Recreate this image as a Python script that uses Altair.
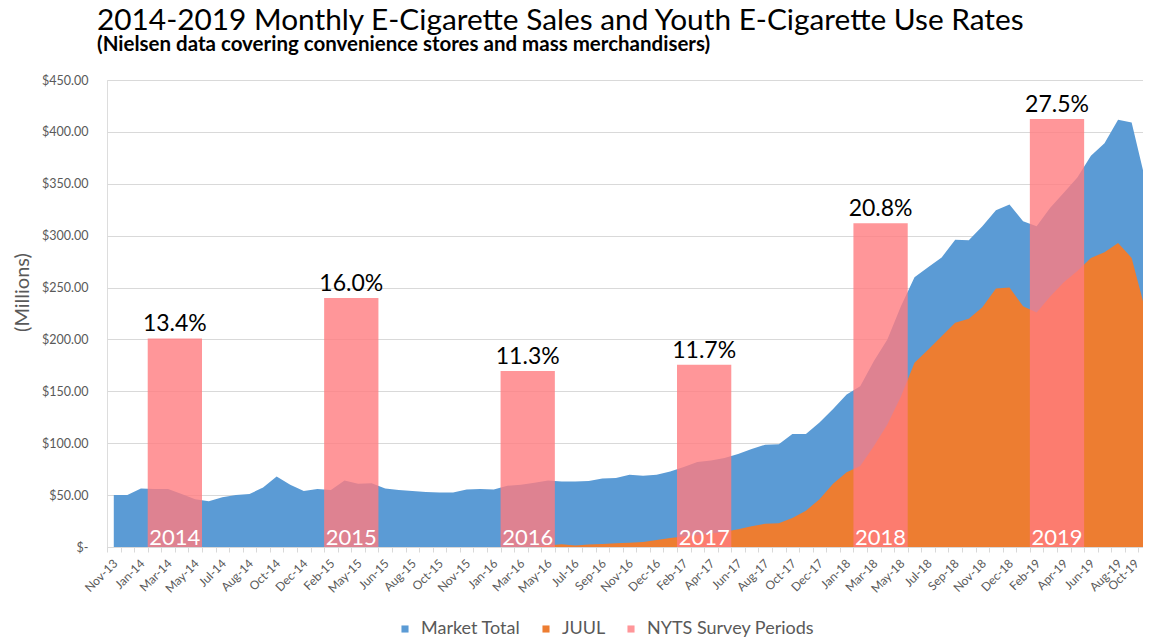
import altair as alt
import pandas as pd

# ---- data ----
tick_labels = ["Nov-13", "Jan-14", "Mar-14", "May-14", "Jul-14", "Aug-14", "Oct-14", "Dec-14",
               "Feb-15", "May-15", "Jun-15", "Aug-15", "Oct-15", "Nov-15", "Jan-16", "Mar-16",
               "May-16", "Jul-16", "Sep-16", "Nov-16", "Dec-16", "Feb-17", "Apr-17", "Jun-17",
               "Aug-17", "Oct-17", "Dec-17", "Jan-18", "Mar-18", "May-18", "Jul-18", "Sep-18",
               "Nov-18", "Dec-18", "Feb-19", "Apr-19", "Jun-19", "Aug-19", "Oct-19"]

# 4-week Nielsen periods, $ millions
market_total = [50, 50, 56.4, 56, 56, 51, 46, 44, 48, 50,
                51, 57.4, 68, 60, 54, 56, 55, 64, 61, 61.5,
                56.4, 55, 54, 53, 52.5, 52.5, 55.4, 56, 55.4, 59,
                60, 62, 64, 63, 63, 63.5, 66, 66.4, 69.6, 68.6,
                69.6, 72.8, 77, 82, 83.4, 85.7, 89.6, 94.4, 98.6, 99,
                109, 109, 120, 133, 147, 155, 179, 200, 232, 260,
                269.5, 279, 296, 295.5, 309, 324.6, 330, 314, 309, 327,
                341.4, 356, 377, 389, 411.6, 409, 354]

juul = [0, 0, 0, 0, 0, 0, 0, 0, 0, 0,
        0, 0, 0, 0, 0, 0, 0, 0, 0, 0,
        0, 0, 0, 0, 0, 0, 0, 0, 0, 0,
        0, 0, 1.5, 2.6, 1.5, 2.5, 3, 3.5, 4, 4.7,
        6.7, 8.7, 10, 11.6, 13, 14.8, 17, 20, 22.5, 23,
        28, 35, 46, 61, 72, 78, 97, 118, 145, 177.5,
        190, 203, 216, 220, 231, 249, 250, 232, 226, 241.5,
        255, 266, 278.6, 284, 293, 278.6, 228.7]

survey_years = ["2014", "2015", "2016", "2017", "2018", "2019"]
survey_rates = [13.4, 16.0, 11.3, 11.7, 20.8, 27.5]
survey_start = [3, 16, 29, 42, 55, 68]
survey_end = [7, 20, 33, 46, 59, 72]

n = len(market_total)
rows = []
for i, v in enumerate(market_total):
    rows.append({"period": i, "series": "Market Total", "value": v})
for i, v in enumerate(juul):
    rows.append({"period": i, "series": "JUUL", "value": v})
sales = pd.DataFrame(rows)
survey = pd.DataFrame({"year": survey_years, "rate": survey_rates,
                       "start": survey_start, "end": survey_end})

FONT = "Lato"
GREY = "#595959"
LIGHT = "#D9D9D9"

color_scale = alt.Scale(domain=["Market Total", "JUUL", "NYTS Survey Periods"],
                        range=["#5B9BD5", "#ED7D31", "rgba(255,124,128,0.8)"])

label_js = "[" + ",".join("'" + l + "'" for l in tick_labels) + "]"
x_scale = alt.Scale(domain=[0, n], nice=False, zero=False, padding=0)
x_axis = alt.Axis(values=list(range(n + 1)),
                  labelExpr=f"datum.value % 2 == 0 && datum.value < {n} ? {label_js}[datum.value / 2] : ''",
                  labelAngle=-45, labelAlign="right", labelBaseline="middle",
                  labelOffset={"condition": {"test": f"datum.value == {n - 1}", "value": -2}, "value": 8},
                  labelPadding=9, labelFont=FONT, labelFontSize=12,
                  labelColor=GREY, labelOverlap=False, labelFlush=False, labelBound=False,
                  tickColor=LIGHT, tickSize=5, domainColor=LIGHT, grid=False, title=None)

y_scale = alt.Scale(domain=[0, 450], nice=False, padding=0)
y_axis = alt.Axis(values=list(range(0, 451, 50)),
                  labelExpr="datum.value == 0 ? '$-' : '$' + format(datum.value, '.2f')",
                  grid=True, gridColor=LIGHT, ticks=False, domain=False,
                  labelPadding=19, labelFont=FONT, labelFontSize=12.5, labelColor=GREY,
                  title="(Millions)", titleFont=FONT, titleFontSize=20, titleFontWeight="normal",
                  titleColor=GREY, titleX=-75, titleY=212, titleAngle=-90, titleBaseline="bottom")

legend = alt.Legend(orient="none", legendX=289, legendY=540, direction="horizontal", title=None,
                    labelFont=FONT, labelFontSize=18, labelColor=GREY, symbolType="square",
                    symbolSize=50, symbolStrokeWidth=0, columnPadding=16, labelOffset=7,
                    labelLimit=0)

base = alt.Chart(sales).transform_calculate(xc="datum.period + 0.5")

blue = base.transform_filter("datum.series == 'Market Total'").mark_area(interpolate="linear").encode(
    x=alt.X("xc:Q", scale=x_scale, axis=x_axis),
    y=alt.Y("value:Q", scale=y_scale, axis=y_axis, stack=None),
    color=alt.Color("series:N", scale=color_scale, legend=legend),
)
orange = base.transform_filter("datum.series == 'JUUL'").mark_area(interpolate="linear").encode(
    x=alt.X("xc:Q", scale=x_scale, axis=x_axis),
    y=alt.Y("value:Q", scale=y_scale, axis=y_axis, stack=None),
    color=alt.Color("series:N", scale=color_scale, legend=legend),
)
sales_layer = alt.layer(blue, orange)

rate_scale = alt.Scale(domain=[0, 30], nice=False, padding=0)
sbase = alt.Chart(survey).transform_calculate(
    series="'NYTS Survey Periods'",
    mid="(datum.start + datum.end) / 2",
    lbl="format(datum.rate, '.1f') + '%'",
)
bars = sbase.mark_rect().encode(
    x=alt.X("start:Q", scale=x_scale, axis=x_axis),
    x2="end:Q",
    y=alt.Y("rate:Q", scale=rate_scale, axis=None),
    y2=alt.datum(0),
    color=alt.Color("series:N", scale=color_scale, legend=legend),
)
pct = sbase.mark_text(font=FONT, fontSize=23, color="black", baseline="alphabetic", dy=-7).encode(
    x=alt.X("mid:Q", scale=x_scale, axis=x_axis),
    y=alt.Y("rate:Q", scale=rate_scale, axis=None),
    text="lbl:N",
)
years = sbase.mark_text(font=FONT, fontSize=22, color="white", baseline="alphabetic", dy=-2).encode(
    x=alt.X("mid:Q", scale=x_scale, axis=x_axis),
    y=alt.Y(datum=0, scale=rate_scale, axis=None),
    text="year:N",
)
survey_layer = alt.layer(bars, pct, years)

chart = alt.layer(sales_layer, survey_layer).resolve_scale(y="independent").properties(
    width=1045, height=467,
    autosize=alt.AutoSizeParams(type="none"),
    padding={"left": 99, "top": 72, "right": -9, "bottom": 93},
    title=alt.TitleParams(
        text="2014-2019 Monthly E-Cigarette Sales and Youth E-Cigarette Use Rates",
        subtitle="(Nielsen data covering convenience stores and mass merchandisers)",
        anchor="start", frame="group", dx=-10, offset=18,
        font=FONT, fontSize=29.8, fontWeight="normal", color="black",
        subtitleFont=FONT, subtitleFontSize=20.5, subtitleFontWeight="bold",
        subtitleColor="black", subtitlePadding=0,
    ),
).configure_view(stroke=None).configure(background="white")

chart.save("out.html", embed_options={"renderer": "svg", "actions": False})
